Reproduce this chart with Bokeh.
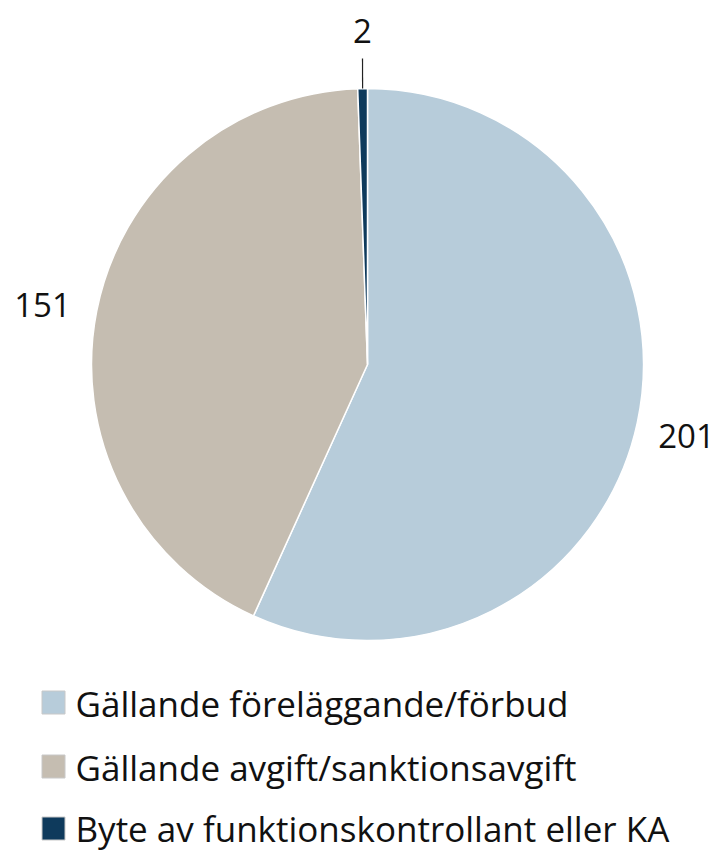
import math
from bokeh.plotting import figure
from bokeh.models import Range1d, ColumnDataSource
from bokeh.core.properties import value
from bokeh.embed import file_html
from bokeh.resources import INLINE

categories = ["Gällande föreläggande/förbud",
              "Gällande avgift/sanktionsavgift",
              "Byte av funktionskontrollant eller KA"]
values = [201, 151, 2]
colors = ["#B7CCDA", "#C5BDB1", "#0E3A5C"]

W, H = 719, 853
p = figure(width=W, height=H, output_backend="svg", toolbar_location=None,
           x_range=Range1d(0, W), y_range=Range1d(0, H),
           min_border=0)
p.axis.visible = False
p.grid.visible = False
p.outline_line_color = None
p.background_fill_color = "white"

def Y(img_y):
    return H - img_y

cx, cy, r = 367, Y(364), 276
total = sum(values)
ends, starts = [], []
a = math.pi / 2
for v in values:
    ends.append(a)
    a -= v / total * 2 * math.pi
    starts.append(a)

src = ColumnDataSource(dict(start=starts, end=ends, color=colors,
                            x=[cx] * 3, y=[cy] * 3))
p.wedge(x="x", y="y", radius=r, start_angle="start", end_angle="end",
        color="color", line_color="white", line_width=1.5, source=src)

# data labels
font = value("Open Sans")
lab_x = [686, 42, 362]
lab_y = [Y(435), Y(304), Y(30)]
p.text(x=lab_x, y=lab_y, text=[str(v) for v in values], text_font=font,
       text_font_size="33px", text_align="center", text_baseline="middle",
       text_color="#111111")
# leader line for small slice
mid = (starts[2] + ends[2]) / 2
p.segment(x0=[cx + r * math.cos(mid)], y0=[cy + r * math.sin(mid)],
          x1=[362], y1=[Y(58)], line_color="#222222", line_width=1.2)

# legend
ly = [Y(702), Y(766), Y(828)]
p.rect(x=[53] * 3, y=ly, width=23, height=23, fill_color=colors,
       line_color="#C8C8C8", line_width=1)
p.text(x=[75] * 3, y=[Y(703), Y(767), Y(828)], text=categories,
       text_font=font, text_font_size="35px", text_align="left",
       text_baseline="alphabetic", text_color="#111111")

open("out.html", "w").write(file_html(p, INLINE))
